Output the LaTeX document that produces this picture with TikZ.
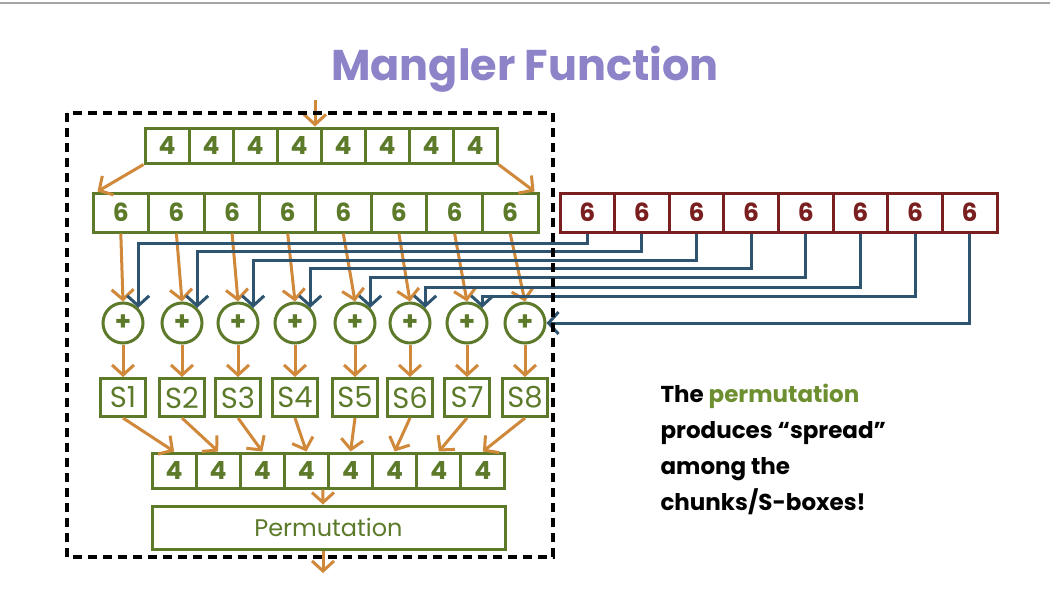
\documentclass[tikz,border=0pt]{standalone}
\usepackage{fontspec}
\setmainfont{Poppins}
\usetikzlibrary{arrows.meta,calc}
\definecolor{gr}{HTML}{5C7A2A}
\definecolor{tgr}{HTML}{6E8F30}
\definecolor{org}{HTML}{D0883A}
\definecolor{blu}{HTML}{2E5470}
\definecolor{rd}{HTML}{7A1F1F}
\definecolor{pur}{HTML}{8C83C8}
\begin{document}
\begin{tikzpicture}[x=1pt,y=-1pt,
  cellg/.style={draw=gr, line width=3pt, fill=white, inner sep=0pt, text=gr, font=\fontsize{25}{25}\selectfont\bfseries},
  cellr/.style={draw=rd, line width=3pt, fill=white, inner sep=0pt, text=rd, font=\fontsize{25}{25}\selectfont\bfseries, minimum width=54.6pt, minimum height=39pt},
  xorc/.style={circle, draw=gr, line width=3pt, fill=white, minimum size=40pt, inner sep=0pt, text=gr, font=\fontsize{26}{26}\selectfont\bfseries},
  sbox/.style={draw=gr, line width=3pt, fill=white, inner sep=0pt, minimum width=45pt, minimum height=38pt, text=gr, font=\fontsize{29}{29}\selectfont},
  oarr/.style={draw=org, line width=3pt, -{Straight Barb[length=10pt,width=22pt]}},
  barr/.style={draw=blu, line width=3pt, -{Straight Barb[length=10pt,width=22pt]}},
  dbox/.style={draw=black, line width=3.5pt, dash pattern=on 9pt off 6pt}
]
\useasboundingbox (0,0) rectangle (1050,592);
\draw[gray!70, line width=2pt] (0,3) -- (1050,3);
\node[text=pur, font=\fontsize{43}{43}\selectfont\bfseries, anchor=base] (title) at (525,80) {Mangler Function};

% rows of cells
\foreach \x [count=\i] in {167,211,255,299,343,387,431,475}
  \node[cellg, minimum width=44pt, minimum height=35pt] (t\i) at (\x,145.5) {4};
\foreach \x [count=\i] in {120.8,176.4,232.1,287.7,343.3,398.9,454.6,510.2}
  \node[cellg, minimum width=55.6pt, minimum height=39pt] (m\i) at (\x,212.5) {6};
\foreach \x [count=\i] in {587.3,641.9,696.6,751.2,805.8,860.4,915.1,969.7}
  \node[cellr] (r\i) at (\x,212.5) {6};
\foreach \x [count=\i] in {123,182,238,295,355,410,467,525}
  \node[xorc] (c\i) at (\x,323) {+};
\foreach \x [count=\i] in {123,182,238,295,355,410,467,525}
  \node[sbox] (s\i) at (\x,397.5) {S\i};
\foreach \x [count=\i] in {174.1,218.2,262.3,306.4,350.6,394.7,438.8,482.9}
  \node[cellg, minimum width=44.1pt, minimum height=35pt] (b\i) at (\x,470.5) {4};
\node[cellg, minimum width=353pt, minimum height=43pt, font=\fontsize{24}{24}\selectfont] (perm) at (328.5,527.5) {Permutation};

% input / output
\coordinate (tin) at (315,100);
\coordinate (tout) at (323,573);
\draw[oarr] (tin) -- (tin |- t4.north);
\draw[oarr] (t1.south west) -- ($(m1.north west)+(6,0)$);
\draw[oarr] (t8.south east) -- ($(m8.north east)+(-5,0)$);

% orange to xor and sboxes
\foreach \i in {1,...,8} {
  \draw[oarr] (m\i.south) -- (c\i.north);
  \draw[oarr] (c\i.south) -- (s\i.north);
  \draw[oarr] (s\i.south) -- (b\i.north);
}
\draw[oarr] ($(b4.south east)+(-7,0)$) -- ($(perm.north)+(-5.5,0)$);
\draw[oarr] ($(perm.south)+(-5.5,0)$) -- (tout);

% blue key connectors
\foreach \i/\yl in {1/243,2/251,3/260,4/268,5/277,6/287,7/296}
  \draw[barr] (r\i.south) -- (r\i.south |- 0,\yl) -- (c\i.north east |- 0,\yl) -- (c\i.north east);
\draw[barr] (r8.south) |- (c8.east);

\draw[dbox] (67,113) rectangle (553,557);

\node[anchor=base west, align=left, font=\fontsize{23}{36}\selectfont\bfseries, text=black] (note) at (657,510)
  {The \textcolor{tgr}{permutation}\\produces ``spread''\\among the\\chunks/S-boxes!};
\end{tikzpicture}
\end{document}
